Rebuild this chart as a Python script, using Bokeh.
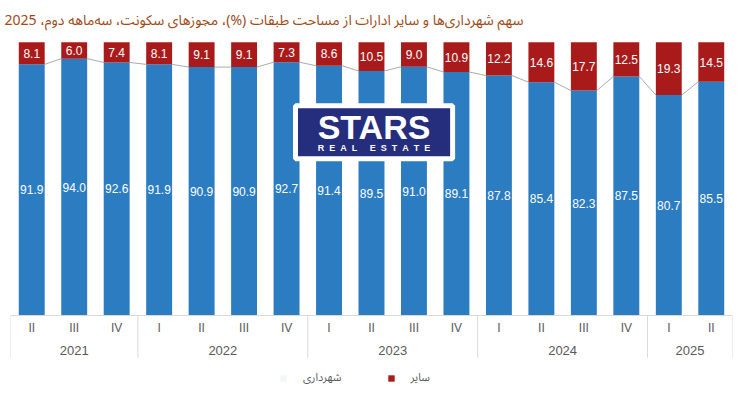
from bokeh.plotting import figure
from bokeh.models import (FactorRange, Range1d, ColumnDataSource, Legend, LegendItem,
                          BoxAnnotation, Label, Span)
from bokeh.core.properties import value
from bokeh.embed import file_html
from bokeh.resources import INLINE

# ---------------- data ----------------
years = ["2021"] * 3 + ["2022"] * 4 + ["2023"] * 4 + ["2024"] * 4 + ["2025"] * 2
quarters = ["II", "III", "IV", "I", "II", "III", "IV", "I", "II", "III", "IV",
            "I", "II", "III", "IV", "I", "II"]
municipal = [91.9, 94.0, 92.6, 91.9, 90.9, 90.9, 92.7, 91.4, 89.5, 91.0, 89.1,
             87.8, 85.4, 82.3, 87.5, 80.7, 85.5]
other = [8.1, 6.0, 7.4, 8.1, 9.1, 9.1, 7.3, 8.6, 10.5, 9.0, 10.9,
         12.2, 14.6, 17.7, 12.5, 19.3, 14.5]
series_names = ["شهرداری", "سایر"]
title_text = "سهم شهرداری‌ها و سایر ادارات از مساحت طبقات (%)، مجوزهای سکونت، سه‌ماهه دوم، 2025"

# ---------------- style ----------------
BLUE = "#2B7CC1"
RED = "#A91B1B"
GRID = "#D9D9D9"
TXT = "#595959"
FONT = "Liberation Sans"
FA_FONT = "'Noto Sans Arabic', 'Noto Sans Arabic UI', 'Liberation Sans', 'DejaVu Sans'"
BAR_W = 0.61

factors = list(zip(years, quarters))
x_range = FactorRange(factors=factors, group_padding=0, factor_padding=0,
                      subgroup_padding=0, range_padding=0)

p = figure(x_range=x_range, y_range=Range1d(-27.44, 102.1),
           frame_width=722, frame_height=354,
           min_border_left=10, min_border_right=1, min_border_top=36, min_border_bottom=0,
           x_axis_location=None, y_axis_location=None,
           output_backend="svg", toolbar_location=None)
p.outline_line_color = None
p.grid.visible = False
p.background_fill_color = "white"
p.border_fill_color = "white"

p.title.text = title_text
p.title.text_font = FA_FONT
p.title.text_font_size = "14px"
p.title.text_font_style = "normal"
p.title.text_color = "#9E4A16"
p.title.align = "left"
p.title.offset = -6
p.title.standoff = 4

src = ColumnDataSource(dict(
    x=factors, municipal=municipal, other=other,
    m_mid=[m / 2 for m in municipal],
    o_mid=[m + o / 2 for m, o in zip(municipal, other)],
    m_lab=[f"{v:.1f}" for v in municipal],
    o_lab=[f"{v:.1f}" for v in other],
))

# baseline
p.add_layout(Span(location=0, dimension="width", line_color=GRID, line_width=1))

# connector line between tops of municipal bars
conn = ColumnDataSource(dict(
    x0=[(years[i], quarters[i], BAR_W / 2) for i in range(len(factors) - 1)],
    x1=[(years[i + 1], quarters[i + 1], -BAR_W / 2) for i in range(len(factors) - 1)],
    y0=municipal[:-1], y1=municipal[1:],
))
p.segment(x0="x0", y0="y0", x1="x1", y1="y1", source=conn, line_color="#ABABAB", line_width=1)

# pale swatch renderer for the first legend entry (fully covered by the blue bars)
r_m_swatch = p.vbar(x="x", top="municipal", width=BAR_W, source=src,
                    fill_color="#F3F6FA", line_color=None)

stack = p.vbar_stack(["municipal", "other"], x="x", width=BAR_W, color=[BLUE, RED],
                     line_color=None, source=src)

p.text(x="x", y="m_mid", text="m_lab", source=src, text_color="white",
       text_font=value(FONT), text_font_size=value("12px"),
       text_align="center", text_baseline="middle")
p.text(x="x", y="o_mid", text="o_lab", source=src, text_color="white",
       text_font=value(FONT), text_font_size=value("12px"),
       text_align="center", text_baseline="middle")

# category axis drawn beneath the bars
qsrc = ColumnDataSource(dict(x=factors, q=quarters))
p.text(x="x", y=-4.4, text="q", source=qsrc, text_color=TXT,
       text_font=value(FONT), text_font_size=value("12px"),
       text_align="center", text_baseline="middle")
uniq_years = []
for y in years:
    if y not in uniq_years:
        uniq_years.append(y)
ysrc = ColumnDataSource(dict(x=uniq_years, t=uniq_years))
p.text(x="x", y=-12.8, text="t", source=ysrc, text_color=TXT,
       text_font=value(FONT), text_font_size=value("13px"),
       text_align="center", text_baseline="middle")

sep_x = []
for i in range(len(factors)):
    if i == 0 or years[i] != years[i - 1]:
        sep_x.append((years[i], quarters[i], -0.5))
sep_x.append((years[-1], quarters[-1], 0.5))
ssrc = ColumnDataSource(dict(x=sep_x))
p.segment(x0="x", y0=0, x1="x", y1=-15.4, source=ssrc, line_color=GRID, line_width=1)

# logo watermark
p.add_layout(BoxAnnotation(left=6.71, right=10.41, bottom=57.4, top=76.8,
                           fill_color="#252D7D", fill_alpha=1,
                           line_color="white", line_width=5, line_alpha=1))
p.add_layout(Label(x=8.56, y=68.9, text="STARS", text_color="white",
                   text_font=FONT, text_font_size="34px", text_font_style="bold",
                   text_align="center", text_baseline="middle"))
NB = "\u00a0"
p.add_layout(Label(x=8.56, y=61.2, text=(NB * 2).join("REAL") + NB * 5 + (NB * 2).join("ESTATE"),
                   text_color="white",
                   text_font=FONT, text_font_size="9px", text_font_style="bold",
                   text_align="center", text_baseline="middle"))

# legend
legend = Legend(items=[LegendItem(label=series_names[0], renderers=[r_m_swatch]),
                       LegendItem(label=series_names[1], renderers=[stack[1]])],
                orientation="horizontal", location=(269, 1),
                border_line_color=None, background_fill_alpha=0,
                padding=0, margin=0, spacing=45, glyph_width=8, glyph_height=8,
                label_standoff=16, label_height=14,
                label_text_font=FA_FONT, label_text_font_size="11px",
                label_text_color=TXT)
p.add_layout(legend)

open("out.html", "w").write(file_html(p, INLINE))
